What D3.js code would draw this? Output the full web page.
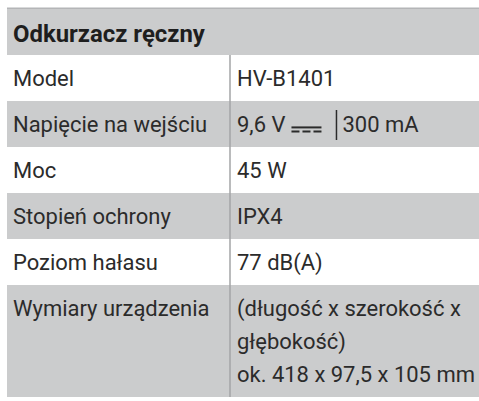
<!DOCTYPE html>
<html><head><meta charset="utf-8">
<script src="https://cdn.jsdelivr.net/npm/d3@7"></script>
<style>html,body{margin:0;padding:0;background:#fff;}svg{display:block;}</style>
</head><body>
<svg id="c" width="479" height="401"></svg>
<script>
const title = "Odkurzacz ręczny";
const labels = ["Model", "Napięcie na wejściu", "Moc", "Stopień ochrony", "Poziom hałasu", "Wymiary urządzenia"];
const values = [["HV-B1401"], ["9,6 V", "300 mA"], ["45 W"], ["IPX4"], ["77 dB(A)"], ["(długość x szerokość x", "głębokość)", "ok. 418 x 97,5 x 105 mm"]];
const lineCounts = [1, 1, 1, 1, 1, 3];

const svg = d3.select("#c");
const font = "Roboto, 'Noto Sans', sans-serif";
const grey = "#cbcccd", ink = "#2b2b2b";
const left = 7, right = 479, divX = 230, col2 = 237;
const headTop = 9, headBottom = 55, rowH = 46, extraLine = 33;

function measure(txt, weight) {
  const p = svg.append("text").attr("font-family", font).attr("font-weight", weight).attr("font-size", 20).text(txt);
  const w = p.node().getComputedTextLength();
  p.remove();
  return w;
}
const fs = Math.min(20 * 200 / measure(labels[1], 400), 20 * 238 / measure(values[5][2], 400));
const fsB = 20 * 192 / measure(title, 700);

let acc = headBottom;
const rows = labels.map((l, i) => {
  const h = rowH + (lineCounts[i] - 1) * extraLine;
  const r = {label: l, value: values[i], y0: acc, h, i};
  acc += h;
  return r;
});

svg.append("rect").attr("x", left).attr("y", headTop).attr("width", right - left).attr("height", headBottom - headTop).attr("fill", grey);
svg.append("rect").attr("x", left).attr("y", headTop - 1.5).attr("width", right - left).attr("height", 1.5).attr("fill", "#b4b5b7");
svg.append("text").attr("x", 13).attr("y", (headTop + headBottom) / 2 + 1).attr("dy", "0.36em")
  .attr("font-family", font).attr("font-weight", 700).attr("font-size", fsB).attr("fill", "#1e1e1e").text(title);

const g = svg.selectAll("g.row").data(rows).join("g").attr("class", "row");
g.append("rect").attr("x", left).attr("y", d => d.y0).attr("width", right - left).attr("height", d => d.h)
  .attr("fill", d => d.i % 2 ? grey : "#fff");
g.append("text").attr("x", 13).attr("y", d => d.y0 + rowH / 2).attr("dy", "0.36em")
  .attr("font-family", font).attr("font-size", fs).attr("fill", ink).text(d => d.label);

rows.forEach(r => {
  const gg = g.filter(d => d === r);
  const cy = r.y0 + rowH / 2;
  if (r.i === 1) {
    const t1 = gg.append("text").attr("x", col2).attr("y", cy).attr("dy", "0.36em")
      .attr("font-family", font).attr("font-size", fs).attr("fill", ink).text(r.value[0]);
    const w1 = t1.node().getComputedTextLength();
    const base = cy + 0.36 * fs;
    const sx = col2 + w1 + 6, sw = 30;
    gg.append("line").attr("x1", sx).attr("x2", sx + sw).attr("y1", base - 4.5).attr("y2", base - 4.5).attr("stroke", ink).attr("stroke-width", 2);
    gg.append("line").attr("x1", sx).attr("x2", sx + sw).attr("y1", base - 0.5).attr("y2", base - 0.5).attr("stroke", ink).attr("stroke-width", 2).attr("stroke-dasharray", "8,3");
    const bx = sx + sw + 15;
    gg.append("line").attr("x1", bx).attr("x2", bx).attr("y1", cy - 14).attr("y2", cy + 16).attr("stroke", ink).attr("stroke-width", 1.5);
    gg.append("text").attr("x", bx + 6).attr("y", cy).attr("dy", "0.36em")
      .attr("font-family", font).attr("font-size", fs).attr("fill", ink).text(r.value[1]);
  } else {
    r.value.forEach((v, k) => {
      gg.append("text").attr("x", col2).attr("y", cy + k * extraLine).attr("dy", "0.36em")
        .attr("font-family", font).attr("font-size", fs).attr("fill", ink).text(v);
    });
  }
});

svg.append("line").attr("x1", divX).attr("x2", divX).attr("y1", headBottom).attr("y2", acc)
  .attr("stroke", "#a3a4a6").attr("stroke-width", 1.5);
</script>
</body></html>
